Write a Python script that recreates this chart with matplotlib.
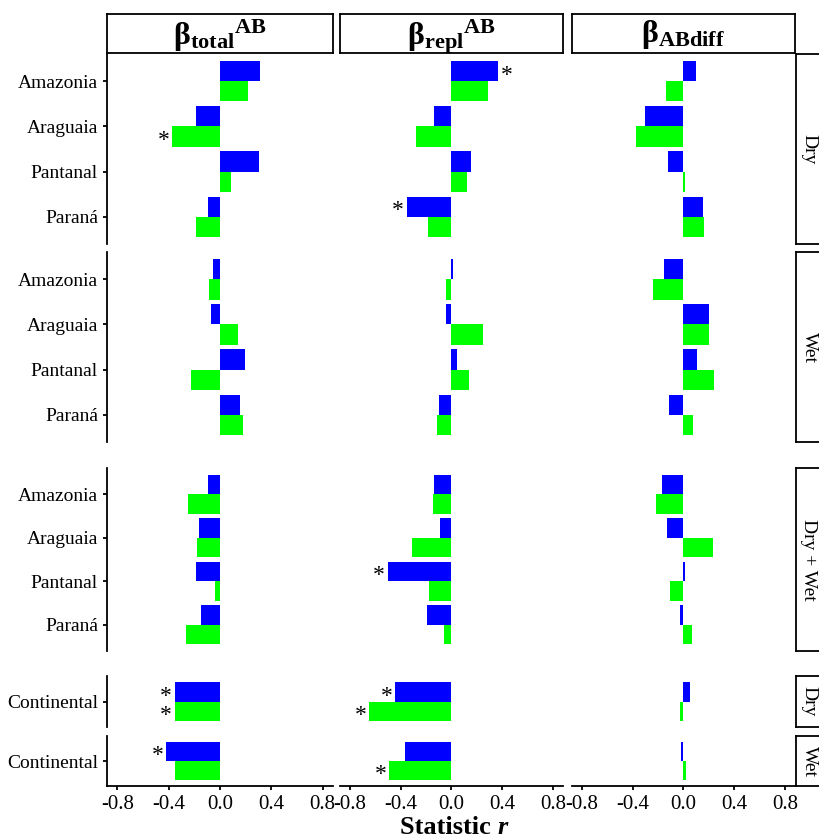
import matplotlib.pyplot as plt
import numpy as np

plt.rcParams['font.family'] = 'Liberation Serif'
plt.rcParams['mathtext.fontset'] = 'custom'
plt.rcParams['mathtext.rm'] = 'Liberation Serif'
plt.rcParams['mathtext.bf'] = 'Liberation Serif:bold'
plt.rcParams['mathtext.it'] = 'Liberation Serif:italic'

# Data
regions = ['Amazonia', 'Araguaia', 'Pantanal', 'Paraná']
continental = ['Continental']
metric_titles = [r'$\mathbf{{\beta_{total}}^{AB}}$',
                 r'$\mathbf{{\beta_{repl}}^{AB}}$',
                 r'$\mathbf{\beta_{ABdiff}}$']

# one list per metric column (total, repl, ABdiff), regions in order
dry_blue = [[0.31, -0.19, 0.305, -0.096], [0.37, -0.14, 0.155, -0.355], [0.10, -0.30, -0.12, 0.15]]
dry_green = [[0.215, -0.37, 0.085, -0.19], [0.29, -0.28, 0.12, -0.185], [-0.135, -0.375, 0.013, 0.16]]
wet_blue = [[-0.057, -0.073, 0.194, 0.157], [0.008, -0.042, 0.047, -0.102], [-0.152, 0.20, 0.11, -0.115]]
wet_green = [[-0.086, 0.144, -0.222, 0.183], [-0.042, 0.248, 0.136, -0.118], [-0.24, 0.204, 0.238, 0.078]]
both_blue = [[-0.097, -0.167, -0.188, -0.149], [-0.139, -0.089, -0.505, -0.196], [-0.167, -0.131, 0.008, -0.031]]
both_green = [[-0.253, -0.183, -0.039, -0.261], [-0.144, -0.314, -0.178, -0.058], [-0.217, 0.23, -0.107, 0.068]]
cont_dry_blue = [[-0.353], [-0.442], [0.055]]
cont_dry_green = [[-0.353], [-0.65], [-0.026]]
cont_wet_blue = [[-0.418], [-0.368], [-0.021]]
cont_wet_green = [[-0.353], [-0.49], [0.021]]

# significant bars: (panel, column, row, series)
stars = [(0, 0, 1, 'green'), (0, 1, 0, 'blue'), (0, 1, 3, 'blue'),
         (2, 1, 2, 'blue'),
         (3, 0, 0, 'blue'), (3, 0, 0, 'green'), (3, 1, 0, 'blue'), (3, 1, 0, 'green'),
         (4, 0, 0, 'blue'), (4, 1, 0, 'green')]

panels = [
    ('Dry', regions, dry_blue, dry_green),
    ('Wet', regions, wet_blue, wet_green),
    ('Dry + Wet', regions, both_blue, both_green),
    ('Dry', continental, cont_dry_blue, cont_dry_green),
    ('Wet', continental, cont_wet_blue, cont_wet_green),
]

BLUE = '#0000FF'
GREEN = '#00FF00'
W, H = 820, 839

# layout in pixels
cols_px = [(107, 333), (340, 563), (572, 795)]
rows_px = [(54, 244), (252, 442), (468, 651), (676, 727), (736, 786)]


def box(x0, y0, x1, y1):
    return [x0 / W, 1 - y1 / H, (x1 - x0) / W, (y1 - y0) / H]


fig = plt.figure(figsize=(W / 100, H / 100), dpi=100)

for p, (season, cats, blue, green) in enumerate(panels):
    y0, y1 = rows_px[p]
    n = len(cats)
    y = np.arange(n)
    for c in range(3):
        x0, x1 = cols_px[c]
        ax = fig.add_axes(box(x0, y0, x1, y1))
        ax.barh(y - 0.225, blue[c], height=0.45, color=BLUE)
        ax.barh(y + 0.225, green[c], height=0.45, color=GREEN)
        ax.set_xlim(-0.88, 0.88)
        ax.set_ylim(n - 0.4, -0.6)
        for s in ['top', 'right']:
            ax.spines[s].set_visible(False)
        ax.spines['left'].set_linewidth(1.3)
        ax.spines['bottom'].set_linewidth(1.3)
        ax.tick_params(width=1.3, length=3, labelsize=14, colors='black')
        ax.tick_params(axis='x', labelsize=15)
        if c == 0:
            ax.set_yticks(y)
            ax.set_yticklabels(cats)
        else:
            ax.spines['left'].set_visible(False)
            ax.set_yticks([])
        if p == len(panels) - 1:
            ax.set_xticks([-0.8, -0.4, 0.0, 0.4, 0.8])
            ax.set_xticklabels(['-0.8', '-0.4', '0.0', '0.4', '0.8'])
        else:
            ax.spines['bottom'].set_visible(False)
            ax.set_xticks([])

        # significance marks
        for sp, sc, sr, series in stars:
            if sp == p and sc == c:
                v = (blue if series == 'blue' else green)[c][sr]
                yy = sr - 0.225 if series == 'blue' else sr + 0.225
                ax.annotate('*', (v, yy), xytext=(-2 if v < 0 else 2, -3),
                            textcoords='offset points',
                            ha='right' if v < 0 else 'left', va='center',
                            fontsize=17)

    # right strip
    sax = fig.add_axes(box(796, y0, 822, y1))
    sax.set_xticks([])
    sax.set_yticks([])
    for s in sax.spines.values():
        s.set_linewidth(1.3)
    sax.text(0.5, 0.5, season, rotation=-90, ha='center', va='center',
             fontsize=14, transform=sax.transAxes)

# top strips
for c in range(3):
    x0, x1 = cols_px[c]
    tax = fig.add_axes(box(x0, 14, x1, 53))
    tax.set_xticks([])
    tax.set_yticks([])
    for s in tax.spines.values():
        s.set_linewidth(1.3)
    tax.text(0.5, 0.43 if c < 2 else 0.48, metric_titles[c], ha='center', va='center',
             fontsize=23, transform=tax.transAxes)

fig.text(497 / W, 1 - 827 / H, 'Statistic ', ha='right', va='center',
         fontsize=19, fontweight='bold')
fig.text(497 / W, 1 - 827 / H, 'r', ha='left', va='center',
         fontsize=19, fontweight='bold', fontstyle='italic')

fig.savefig('out.png', dpi=100)
